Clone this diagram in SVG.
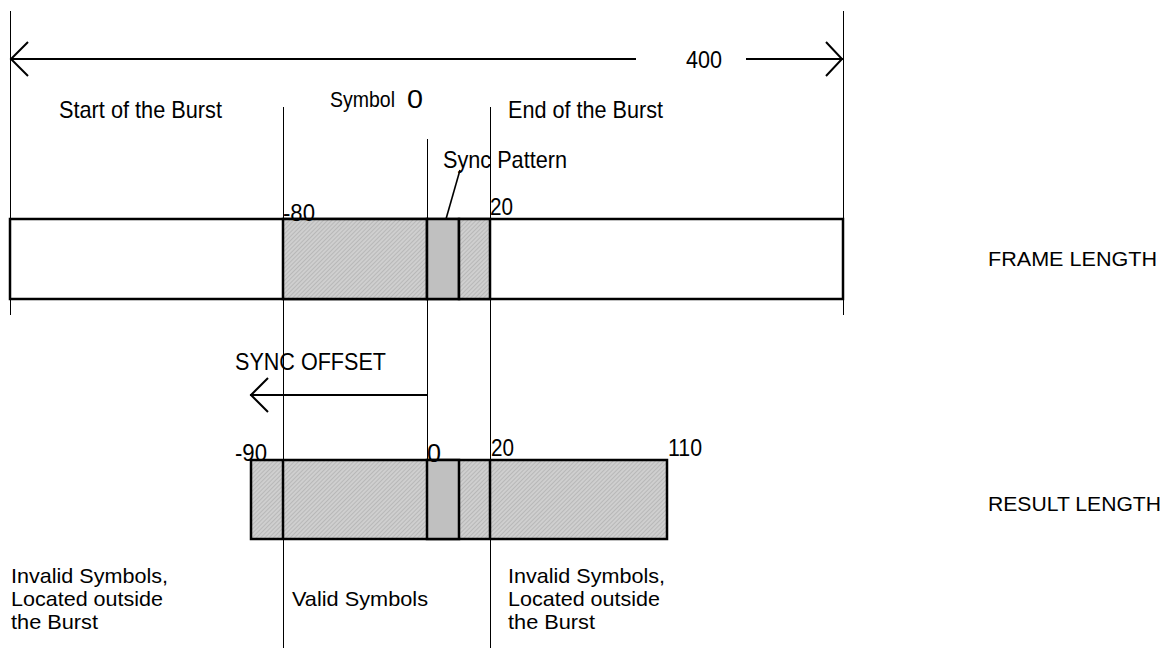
<svg xmlns="http://www.w3.org/2000/svg" width="1174" height="648" viewBox="0 0 1174 648">
<defs>
<pattern id="hatch" width="3" height="3" patternUnits="userSpaceOnUse" patternTransform="rotate(45)">
<rect width="3" height="3" fill="#cfcfcf"/>
<line x1="0" y1="0" x2="0" y2="3" stroke="#a9a9a9" stroke-width="1.2"/>
</pattern>
<style>
text{font-family:"Liberation Sans",Arial,sans-serif;font-size:24px;fill:#000}
.sm{font-size:21px}
.thin{stroke:#000;stroke-width:1;fill:none}
.arr{stroke:#000;stroke-width:2;fill:none}
.box{stroke:#000;stroke-width:2.5}
.hatch{fill:url(#hatch)}
.solid{fill:#c0c0c0}
</style>
</defs>
<rect width="1174" height="648" fill="#fff"/>
<g id="connectors">
<line class="thin" x1="10.5" y1="11" x2="10.5" y2="315"/>
<line class="thin" x1="843.5" y1="11" x2="843.5" y2="315"/>
<line class="thin" x1="283.5" y1="107" x2="283.5" y2="648"/>
<line class="thin" x1="427.5" y1="139" x2="427.5" y2="460"/>
<line class="thin" x1="490.5" y1="107" x2="490.5" y2="648"/>
<line class="arr" x1="10" y1="59" x2="636" y2="59"/>
<line class="arr" x1="746" y1="59" x2="843" y2="59"/>
<polyline class="arr" points="28,42 11,59 28,76"/>
<polyline class="arr" points="826,42 842,59 826,76"/>
<line class="arr" x1="250" y1="395" x2="427" y2="395"/>
<polyline class="arr" points="268,378 251,395 268,412"/>
<line stroke="#000" stroke-width="1.6" x1="460" y1="170" x2="446" y2="219"/>
</g>
<g id="frame">
<rect x="10" y="219" width="833" height="80" fill="#fff" class="box"/>
<rect x="283" y="219" width="144" height="80" class="hatch box"/>
<rect x="427" y="219" width="32" height="80" class="solid box"/>
<rect x="459" y="219" width="31" height="80" class="hatch box"/>
</g>
<g id="result">
<rect x="251" y="460" width="416" height="79" class="hatch box"/>
<line class="box" x1="283" y1="460" x2="283" y2="539"/>
<rect x="427" y="460" width="32" height="79" class="solid box"/>
<line class="box" x1="490" y1="460" x2="490" y2="539"/>
</g>
<g id="labels">
<text x="686" y="68" textLength="36" lengthAdjust="spacingAndGlyphs">400</text>
<text x="59" y="118" textLength="163" lengthAdjust="spacingAndGlyphs">Start of the Burst</text>
<text x="330" y="107" textLength="65" lengthAdjust="spacingAndGlyphs" style="font-size:22px">Symbol</text>
<text x="407" y="108" textLength="16" lengthAdjust="spacingAndGlyphs" style="font-size:26px">0</text>
<text x="508" y="118" textLength="155" lengthAdjust="spacingAndGlyphs">End of the Burst</text>
<text x="443" y="168" textLength="124" lengthAdjust="spacingAndGlyphs">Sync Pattern</text>
<text x="283" y="221" textLength="32" lengthAdjust="spacingAndGlyphs">-80</text>
<text x="490" y="215" textLength="23" lengthAdjust="spacingAndGlyphs">20</text>
<text x="988" y="266" textLength="169" lengthAdjust="spacingAndGlyphs" class="sm">FRAME LENGTH</text>
<text x="235" y="370" textLength="151" lengthAdjust="spacingAndGlyphs">SYNC OFFSET</text>
<text x="235" y="461" textLength="32" lengthAdjust="spacingAndGlyphs">-90</text>
<text x="427" y="462" textLength="14" lengthAdjust="spacingAndGlyphs" style="font-size:26px">0</text>
<text x="491" y="456" textLength="23" lengthAdjust="spacingAndGlyphs">20</text>
<text x="668" y="456" textLength="34" lengthAdjust="spacingAndGlyphs">110</text>
<text x="988" y="511" textLength="173" lengthAdjust="spacingAndGlyphs" class="sm">RESULT LENGTH</text>
<text x="11" y="583" textLength="157" lengthAdjust="spacingAndGlyphs" class="sm">Invalid Symbols,</text>
<text x="11" y="606" textLength="152" lengthAdjust="spacingAndGlyphs" class="sm">Located outside</text>
<text x="11" y="629" textLength="87" lengthAdjust="spacingAndGlyphs" class="sm">the Burst</text>
<text x="292" y="606" textLength="136" lengthAdjust="spacingAndGlyphs" class="sm">Valid Symbols</text>
<text x="508" y="583" textLength="157" lengthAdjust="spacingAndGlyphs" class="sm">Invalid Symbols,</text>
<text x="508" y="606" textLength="152" lengthAdjust="spacingAndGlyphs" class="sm">Located outside</text>
<text x="508" y="629" textLength="87" lengthAdjust="spacingAndGlyphs" class="sm">the Burst</text>
</g>
</svg>
